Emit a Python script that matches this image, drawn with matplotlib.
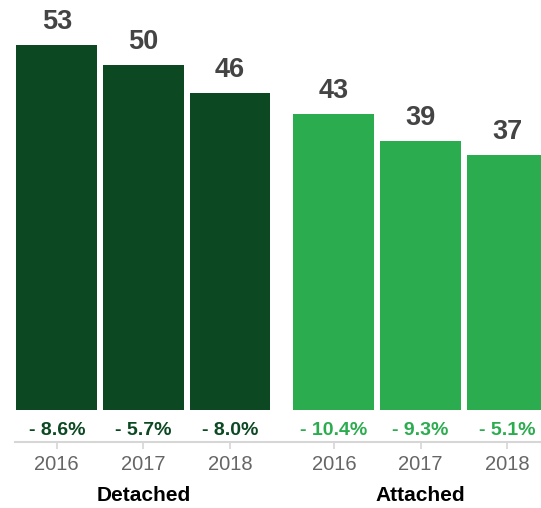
import matplotlib
matplotlib.use("Agg")
import matplotlib.pyplot as plt
from matplotlib.transforms import blended_transform_factory

# Data
groups = ["Detached", "Attached"]
years = ["2016", "2017", "2018"]
detached_values = [53, 50, 46]
attached_values = [43, 39, 37]
detached_change = [-8.6, -5.7, -8.0]
attached_change = [-10.4, -9.3, -5.1]

dark_green = "#0c4923"
light_green = "#2bac4f"
value_color = "#444444"
year_color = "#666666"
axis_color = "#d6d6d6"

plt.rcParams["font.family"] = ["Liberation Sans", "DejaVu Sans"]

W, H = 541, 508
fig = plt.figure(figsize=(W / 100, H / 100), dpi=100)

# Axes spans from the axis line (bottom) to the top of the canvas
ax_left_px = 14.5
axis_line_px = 441.7          # from top
ax = fig.add_axes([ax_left_px / W, (H - axis_line_px) / H,
                   (W - ax_left_px) / W, axis_line_px / H])

px_per_unit = 6.9
pitch_px = 86.6
first_center_px = 56.8
base_px = 410.3
y_bottom = -(axis_line_px - base_px) / px_per_unit
ax.set_ylim(y_bottom, y_bottom + axis_line_px / px_per_unit)
ax.set_xlim((ax_left_px - first_center_px) / pitch_px,
            (W - first_center_px) / pitch_px)

group_gap = 0.2
det_x = [i for i in range(3)]
att_x = [3 + group_gap + i for i in range(3)]
width = 0.935

ax.bar(det_x, detached_values, width=width, color=dark_green,
       edgecolor="none")
ax.bar(att_x, attached_values, width=width, color=light_green,
       edgecolor="none")

# Value labels above bars
for xs, vals in ((det_x, detached_values), (att_x, attached_values)):
    for x, v in zip(xs, vals):
        ax.annotate(f"{v}", (x, v), xytext=(0, 11.5), textcoords="offset points",
                    ha="center", va="baseline", fontsize=19.5,
                    fontweight="bold", color=value_color)

# Change labels just above the axis line
pct_y = -(435 - base_px) / px_per_unit
for xs, chg, col in ((det_x, detached_change, dark_green),
                     (att_x, attached_change, light_green)):
    for x, c in zip(xs, chg):
        sign = "-" if c < 0 else "+"
        ax.text(x, pct_y, f"{sign} {abs(c):.1f}%", ha="center",
                va="baseline", fontsize=14, fontweight="bold", color=col)

# Axis styling
for s in ("top", "right", "left"):
    ax.spines[s].set_visible(False)
ax.spines["bottom"].set_color(axis_color)
ax.spines["bottom"].set_linewidth(1.5)
ax.set_yticks([])
ax.set_xticks(det_x + att_x)
ax.set_xticklabels(years + years)
ax.tick_params(axis="x", direction="out", length=4.8, width=1.2,
               color=axis_color, pad=5, labelsize=14.5, labelcolor=year_color)
ax.patch.set_alpha(0)

# Group labels under the year labels
trans = blended_transform_factory(ax.transData, fig.transFigure)
group_y = (H - 501) / H
ax.text(det_x[1], group_y, groups[0], transform=trans, ha="center",
        va="baseline", fontsize=15, fontweight="bold", color="black")
ax.text(att_x[1], group_y, groups[1], transform=trans, ha="center",
        va="baseline", fontsize=15, fontweight="bold", color="black")

fig.savefig("out.png", dpi=100)
